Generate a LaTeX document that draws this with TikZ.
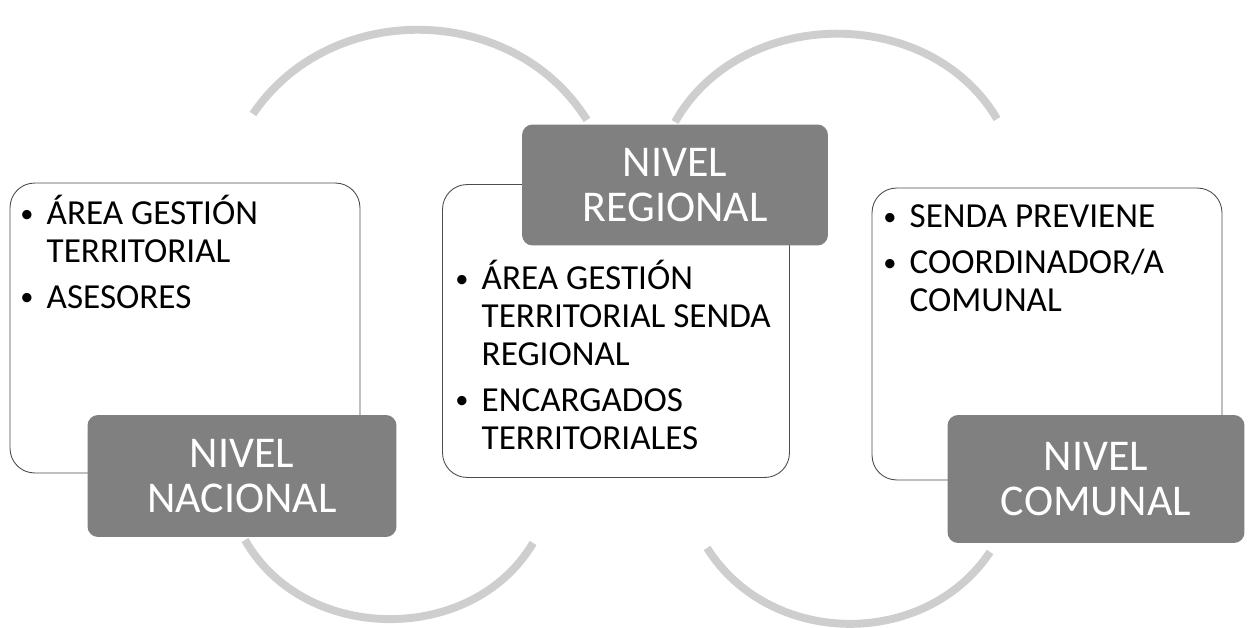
\documentclass[tikz,border=0pt]{standalone}
\usepackage{fontspec}
\setmainfont{Carlito}
\usetikzlibrary{fadings}

\tikzfading[name=fade ends, left color=transparent!70, middle color=transparent!0, right color=transparent!70]

\newcommand{\itembullet}{\makebox[15pt][l]{\raisebox{1.5pt}{\fontsize{15}{15}\selectfont\textbullet}}}

\tikzset{
  listbox/.style={draw=black!70, line width=0.5pt, fill=white, rounded corners=14pt, inner sep=0pt},
  leveltag/.style={fill=black!50, rounded corners=6pt, text=white, inner sep=0pt, align=center, font=\fontsize{25}{26}\selectfont},
  listtext/.style={inner sep=0pt, anchor=base west, font=\fontsize{20}{21.5}\selectfont},
  loopline/.style={draw=black!65, line width=4.5pt, path fading=fade ends, looseness=1.06}
}

\begin{document}
\begin{tikzpicture}[x=0.02cm, y=0.02cm]
  \useasboundingbox (0,0) rectangle (1251,-628);

  % white boxes
  \node[listbox, minimum width=7cm, minimum height=5.8cm] (nacBox) at (185,-328) {};
  \node[listbox, minimum width=6.94cm, minimum height=5.86cm] (regBox) at (616,-331) {};
  \node[listbox, minimum width=7cm, minimum height=5.84cm] (comBox) at (1047,-334) {};

  % lists
  \node[listtext] (nacList) at (20,-225) {\begin{tabular}[t]{@{}l@{}l@{}}
    \itembullet & ÁREA GESTIÓN\\
    & TERRITORIAL\\[4.5pt]
    \itembullet & ASESORES
  \end{tabular}};
  \node[listtext] (regList) at (455,-290) {\begin{tabular}[t]{@{}l@{}l@{}}
    \itembullet & ÁREA GESTIÓN\\
    & TERRITORIAL SENDA\\
    & REGIONAL\\[4.5pt]
    \itembullet & ENCARGADOS\\
    & TERRITORIALES
  \end{tabular}};
  \node[listtext] (comList) at (883,-228) {\begin{tabular}[t]{@{}l@{}l@{}}
    \itembullet & SENDA PREVIENE\\[4.5pt]
    \itembullet & COORDINADOR/A\\
    & COMUNAL
  \end{tabular}};

  % grey tags
  \node[leveltag, minimum width=6.18cm, minimum height=2.44cm] (nacTag) at (242,-476) {NIVEL\\NACIONAL};
  \node[leveltag, minimum width=6.12cm, minimum height=2.42cm] (regTag) at (675,-185) {NIVEL\\REGIONAL};
  \node[leveltag, minimum width=5.94cm, minimum height=2.56cm] (comTag) at (1096,-479) {NIVEL\\COMUNAL};

  % arcs
  \coordinate (topAs) at (253,-114);
  \coordinate (topAe) at (587,-120);
  \coordinate (topBs) at (675,-122);
  \coordinate (topBe) at (997,-119);
  \coordinate (botAs) at (245,-540);
  \coordinate (botAe) at (533,-543);
  \coordinate (botBs) at (707,-548);
  \coordinate (botBe) at (990,-552);
  \draw[loopline] (topAs) to[bend left=57] (topAe);
  \draw[loopline] (topBs) to[bend left=60] (topBe);
  \draw[loopline] (botAs) to[bend right=60] (botAe);
  \draw[loopline] (botBs) to[bend right=57] (botBe);
\end{tikzpicture}
\end{document}
